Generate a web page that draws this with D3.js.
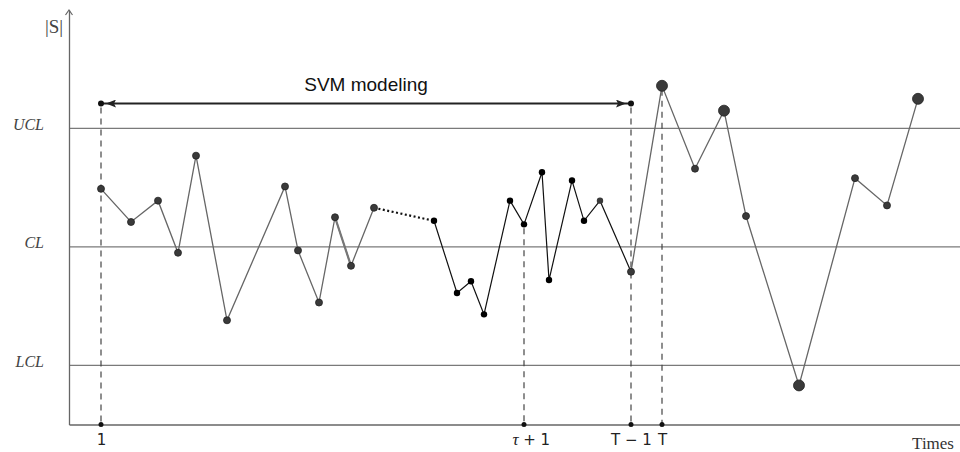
<!DOCTYPE html>
<html>
<head>
<meta charset="utf-8">
<script src="https://cdn.jsdelivr.net/npm/d3@7"></script>
<style>
  body { margin: 0; background: #fff; }
  svg { display: block; }
</style>
</head>
<body>
<svg width="960" height="452"></svg>
<script>
// phase I samples (training), phase II samples, monitoring samples
var phase1T = [3.2, 6.2, 8.9, 10.9, 12.7, 15.8, 21.6, 22.9, 25.0, 26.6, 28.2, 30.5];
var phase1S = [0.49, 0.21, 0.39, -0.05, 0.77, -0.62, 0.51, -0.03, -0.47, 0.25, -0.16, 0.33];
var phase2T = [36.5, 38.8, 40.2, 41.5, 44.1, 45.5, 47.3, 48.0, 50.3, 51.5, 53.1, 56.2];
var phase2S = [0.22, -0.39, -0.29, -0.57, 0.39, 0.19, 0.63, -0.28, 0.56, 0.22, 0.39, -0.21];
var monitorT = [56.2, 59.3, 62.6, 65.5, 67.7, 73.0, 78.6, 81.8, 84.9];
var monitorS = [-0.21, 1.36, 0.66, 1.15, 0.26, -1.17, 0.58, 0.35, 1.25];

var limitNames = ["UCL", "CL", "LCL"];
var limitValues = [1, 0, -1];

var tickTimes = [3.2, 45.5, 56.2, 59.3];
var tickLabels = ["1", "τ+1", "T − 1", "T"];

var svmStart = 3.2, svmEnd = 56.2, svmLevel = 1.21;

var svg = d3.select("svg");
var x = d3.scaleLinear().domain([0, 89.1]).range([69, 960]),
    y = d3.scaleLinear().domain([-1.5, 2]).range([424.5, 10]);

function zip(t, s) { return t.map(function(d, i) { return {t: d, s: s[i]}; }); }
var p1 = zip(phase1T, phase1S), p2 = zip(phase2T, phase2S), pm = zip(monitorT, monitorS);

var line = d3.line().x(function(d) { return x(d.t); }).y(function(d) { return y(d.s); });

// control limit lines
svg.selectAll(".limit")
  .data(limitValues)
  .enter().append("line")
    .attr("x1", x(0)).attr("x2", 960)
    .attr("y1", function(d) { return y(d); })
    .attr("y2", function(d) { return y(d); })
    .style("stroke", "#7a7a7a")
    .style("stroke-width", 1.3);

// y axis
var yAxis = svg.append("g")
    .attr("transform", "translate(" + x(0) + ",0)")
    .call(d3.axisLeft(y).tickValues(limitValues).tickSize(0).tickPadding(25)
      .tickFormat(function(d, i) { return limitNames[i]; }));
yAxis.select(".domain").style("stroke", "#666").style("stroke-width", 1.3);
yAxis.selectAll("text")
    .attr("dy", "0.05em")
    .style("font-family", "Liberation Serif, serif")
    .style("font-style", "italic")
    .style("font-size", "16px")
    .style("fill", "#444");

svg.append("path")
    .attr("d", "M" + (x(0) - 3.5) + "," + (y.range()[1] + 5) + "L" + x(0) + "," + y.range()[1] + "L" + (x(0) + 3.5) + "," + (y.range()[1] + 5))
    .style("fill", "none").style("stroke", "#666").style("stroke-width", 1.2);

svg.append("text")
    .attr("x", 54).attr("y", 33)
    .attr("text-anchor", "middle")
    .style("font-family", "Liberation Serif, serif")
    .style("font-size", "19px")
    .style("fill", "#444")
    .text("|S|");

// x axis
var xAxis = svg.append("g")
    .attr("transform", "translate(0," + y(-1.5) + ")")
    .call(d3.axisBottom(x).tickValues(tickTimes).tickSize(0).tickSizeOuter(0).tickPadding(10)
      .tickFormat(function(d, i) { return tickLabels[i]; }));
xAxis.select(".domain").style("stroke", "#666").style("stroke-width", 1.3);
xAxis.selectAll("text")
    .style("font-family", "DejaVu Sans, sans-serif")
    .style("font-size", "15px")
    .style("fill", "#222")
    .each(function(d, i) {
      if (i == 1) {
        var t = d3.select(this).text("").attr("dx", "0.45em");
        t.append("tspan").style("font-family", "Liberation Serif, serif").style("font-style", "italic").style("font-size", "17px").text("τ");
        t.append("tspan").text(" + 1");
      }
    });

svg.append("text")
    .attr("x", 954).attr("y", 449)
    .attr("text-anchor", "end")
    .style("font-family", "Liberation Serif, serif")
    .style("font-size", "17px")
    .style("fill", "#333")
    .text("Times");

// dashed guides
var guides = [
  {t: svmStart, s: svmLevel},
  {t: phase2T[5], s: phase2S[5]},
  {t: svmEnd, s: svmLevel},
  {t: monitorT[1], s: monitorS[1]}
];
svg.selectAll(".guide")
  .data(guides)
  .enter().append("line")
    .attr("x1", function(d) { return x(d.t); })
    .attr("x2", function(d) { return x(d.t); })
    .attr("y1", function(d) { return y(d.s) + 4; })
    .attr("y2", y(-1.5))
    .style("stroke", "#444")
    .style("stroke-width", 1.2)
    .style("stroke-dasharray", "6,5");

svg.selectAll(".tickdot")
  .data(tickTimes)
  .enter().append("circle")
    .attr("cx", function(d) { return x(d); })
    .attr("cy", y(-1.5))
    .attr("r", 2.5)
    .style("fill", "#111");

// SVM modeling arrow
var defs = svg.append("defs");
defs.append("marker")
    .attr("id", "head")
    .attr("viewBox", "0 0 10 8")
    .attr("refX", 15).attr("refY", 4)
    .attr("markerWidth", 10).attr("markerHeight", 8)
    .attr("markerUnits", "userSpaceOnUse")
    .attr("orient", "auto-start-reverse")
  .append("path")
    .attr("d", "M0,0L10,4L0,8L2,4z")
    .style("fill", "#222");

svg.append("line")
    .attr("x1", x(svmStart)).attr("x2", x(svmEnd))
    .attr("y1", y(svmLevel)).attr("y2", y(svmLevel))
    .attr("marker-start", "url(#head)")
    .attr("marker-end", "url(#head)")
    .style("stroke", "#222")
    .style("stroke-width", 2);

svg.selectAll(".svmdot")
  .data([svmStart, svmEnd])
  .enter().append("circle")
    .attr("cx", function(d) { return x(d); })
    .attr("cy", y(svmLevel))
    .attr("r", 3)
    .style("fill", "#111");

svg.append("text")
    .attr("x", x((svmStart + svmEnd) / 2)).attr("y", 91)
    .attr("text-anchor", "middle")
    .style("font-family", "Liberation Sans, Arial, sans-serif")
    .style("font-size", "19px")
    .style("fill", "#111")
    .text("SVM modeling");

// series lines
svg.append("path").datum(p1).attr("d", line)
    .style("fill", "none").style("stroke", "#666").style("stroke-width", 1.3);
svg.append("path").datum(p1.slice(9, 11)).attr("d", line)
    .style("fill", "none").style("stroke", "#777").style("stroke-width", 2.2);
svg.append("path").datum([p1[p1.length - 1], p2[0]]).attr("d", line)
    .style("fill", "none").style("stroke", "#111").style("stroke-width", 2.2)
    .style("stroke-dasharray", "2,2.5");
svg.append("path").datum(p2).attr("d", line)
    .style("fill", "none").style("stroke", "#111").style("stroke-width", 1.2);
svg.append("path").datum(pm).attr("d", line)
    .style("fill", "none").style("stroke", "#666").style("stroke-width", 1.3);

// points
svg.selectAll(".d1")
  .data(p1)
  .enter().append("circle")
    .attr("cx", function(d) { return x(d.t); })
    .attr("cy", function(d) { return y(d.s); })
    .attr("r", 3.5)
    .style("fill", "#3a3a3a").style("stroke", "#222").style("stroke-width", 0.8);

svg.selectAll(".d2")
  .data(p2)
  .enter().append("circle")
    .attr("cx", function(d) { return x(d.t); })
    .attr("cy", function(d) { return y(d.s); })
    .attr("r", 3.2)
    .style("fill", function(d, i) { return i >= p2.length - 2 ? "#3a3a3a" : "#000"; });

svg.selectAll(".dm")
  .data(pm)
  .enter().append("circle")
    .attr("cx", function(d) { return x(d.t); })
    .attr("cy", function(d) { return y(d.s); })
    .attr("r", function(d) { return Math.abs(d.s) > 1 ? 5.5 : 3.5; })
    .style("fill", "#3a3a3a").style("stroke", "#222").style("stroke-width", 0.8);
</script>
</body>
</html>
